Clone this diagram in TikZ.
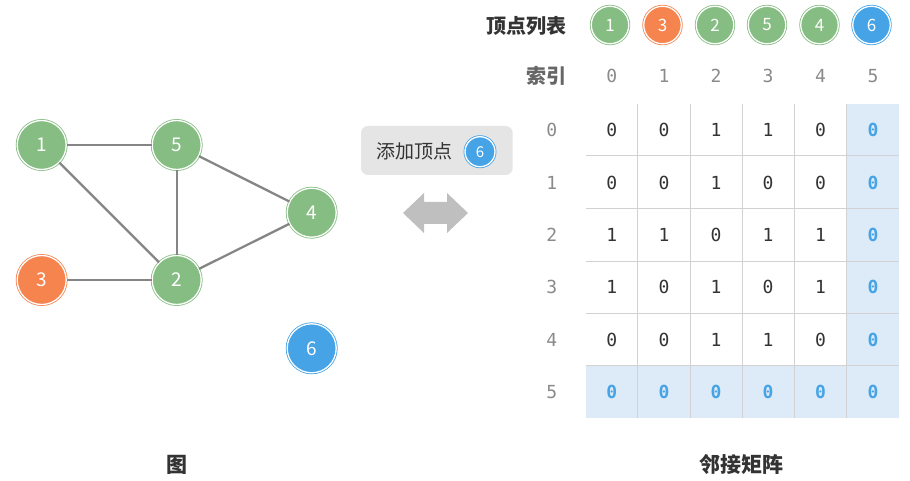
\documentclass[tikz,border=0pt]{standalone}
\usepackage{fontspec}
\setmainfont{Noto Sans CJK SC}
\newfontfamily\cjk{Noto Sans CJK SC}
\newfontfamily\monof{DejaVu Sans Mono}
\definecolor{vgreen}{HTML}{86BD83}
\definecolor{vorange}{HTML}{F5844F}
\definecolor{vblue}{HTML}{45A3E6}
\definecolor{hlblue}{HTML}{DCEBF7}
\definecolor{gridc}{HTML}{D2D2D2}
\definecolor{edgec}{HTML}{858585}
\definecolor{txtd}{HTML}{333333}
\definecolor{txtg}{HTML}{8A8A8A}
\tikzset{
  vnode/.style={circle, inner sep=0pt, minimum size=49pt, fill=#1, draw=#1,
    line width=0.8pt, double=white, double distance=1.3pt, text=white,
    font=\cjk\fontsize{19}{19}\selectfont},
  lnode/.style={vnode=#1, minimum size=37.5pt, font=\cjk\fontsize{17}{17}\selectfont},
  snode/.style={vnode=#1, minimum size=30pt, font=\cjk\fontsize{15}{15}\selectfont},
  edge/.style={draw=edgec, line width=2.3pt},
  cell/.style={font=\monof\fontsize{18}{18}\selectfont, text=txtd},
  bcell/.style={font=\monof\bfseries\fontsize{18}{18}\selectfont, text=vblue},
  idx/.style={font=\monof\fontsize{18}{18}\selectfont, text=txtg},
  title/.style={font=\cjk\bfseries\fontsize{20}{20}\selectfont, text=txtd}
}
\begin{document}
\begin{tikzpicture}[x=1pt,y=-1pt]
\useasboundingbox (0,0) rectangle (910,481);
% graph
\node[vnode=vgreen] (g1) at (41.7,145) {1};
\node[vnode=vgreen] (g5) at (176.7,145) {5};
\node[vnode=vgreen] (g4) at (311.7,212.7) {4};
\node[vnode=vorange] (g3) at (41.7,280) {3};
\node[vnode=vgreen] (g2) at (176.7,280) {2};
\node[vnode=vblue] (g6) at (311.7,348.3) {6};
\draw[edge] (g1) -- (g5);
\draw[edge] (g1) -- (g2);
\draw[edge] (g5) -- (g2);
\draw[edge] (g5) -- (g4);
\draw[edge] (g2) -- (g4);
\draw[edge] (g3) -- (g2);
% label box
\fill[fill=black!10, rounded corners=7pt] (361,126) rectangle (512.7,175);
\node[anchor=west, font=\cjk\fontsize{19}{19}\selectfont, text=txtd, inner sep=0pt] (addl) at (376,151) {添加顶点};
\node[snode=vblue] (add6) at (480,151.7) {6};
% double arrow
\fill[black!25] (403,213) -- (424,193) -- (424,202) -- (447,202) -- (447,193) -- (468,213) -- (447,233) -- (447,224) -- (424,224) -- (424,233) -- cycle;
% vertex list
\node[title, anchor=east, inner sep=0pt] (vlt) at (567,26) {顶点列表};
\node[lnode=vgreen] (l0) at (610,25) {1};
\node[lnode=vorange] (l1) at (662.5,25) {3};
\node[lnode=vgreen] (l2) at (715,25) {2};
\node[lnode=vgreen] (l3) at (767,25) {5};
\node[lnode=vgreen] (l4) at (819.5,25) {4};
\node[lnode=vblue] (l5) at (871.5,25) {6};
\node[font=\cjk\bfseries\fontsize{20}{20}\selectfont, text=black!60, anchor=east, inner sep=0pt] (sy) at (567,76) {索引};
\foreach \i/\x in {0/611.8,1/664,2/716,3/768,4/820.5,5/873}{
  \node[idx] (ci\i) at (\x,76) {\i};
}
% matrix highlight
\fill[hlblue] (846.7,104) rectangle (899.3,418);
\fill[hlblue] (585.7,365.7) rectangle (899.3,418);
% grid
\foreach \x in {637.7,690,742.3,794.3,846.7}{
  \draw[gridc, line width=1pt] (\x,104) -- (\x,418);
}
\foreach \y in {156,209,261,313.3,365.7}{
  \draw[gridc, line width=1pt] (585.7,\y) -- (899.3,\y);
}
% row labels
\foreach \i/\y in {0/130,1/182.5,2/235,3/287,4/339.5,5/392}{
  \node[idx] (ri\i) at (551.7,\y) {\i};
}
% entries
\def\xs{{611.8,664,716,768,820.5,873}}
\def\ys{{130,182.5,235,287,339.5,392}}
\foreach \r/\row in {0/{0,0,1,1,0},1/{0,0,1,0,0},2/{1,1,0,1,1},3/{1,0,1,0,1},4/{0,0,1,1,0}}{
  \foreach \v [count=\c from 0] in \row {
    \pgfmathsetmacro\px{\xs[\c]}
    \pgfmathsetmacro\py{\ys[\r]}
    \node[cell] (m\r\c) at (\px,\py) {\v};
  }
}
\foreach \r/\y in {0/130,1/182.5,2/235,3/287,4/339.5,5/392}{
  \node[bcell] (m\r5) at (873,\y) {0};
}
\foreach \c/\x in {0/611.8,1/664,2/716,3/768,4/820.5}{
  \node[bcell] (m5\c) at (\x,392) {0};
}
% captions
\node[title, font=\cjk\bfseries\fontsize{21}{21}\selectfont] (cap1) at (176.5,465) {图};
\node[title, font=\cjk\bfseries\fontsize{21}{21}\selectfont] (cap2) at (741,465) {邻接矩阵};
\end{tikzpicture}
\end{document}
